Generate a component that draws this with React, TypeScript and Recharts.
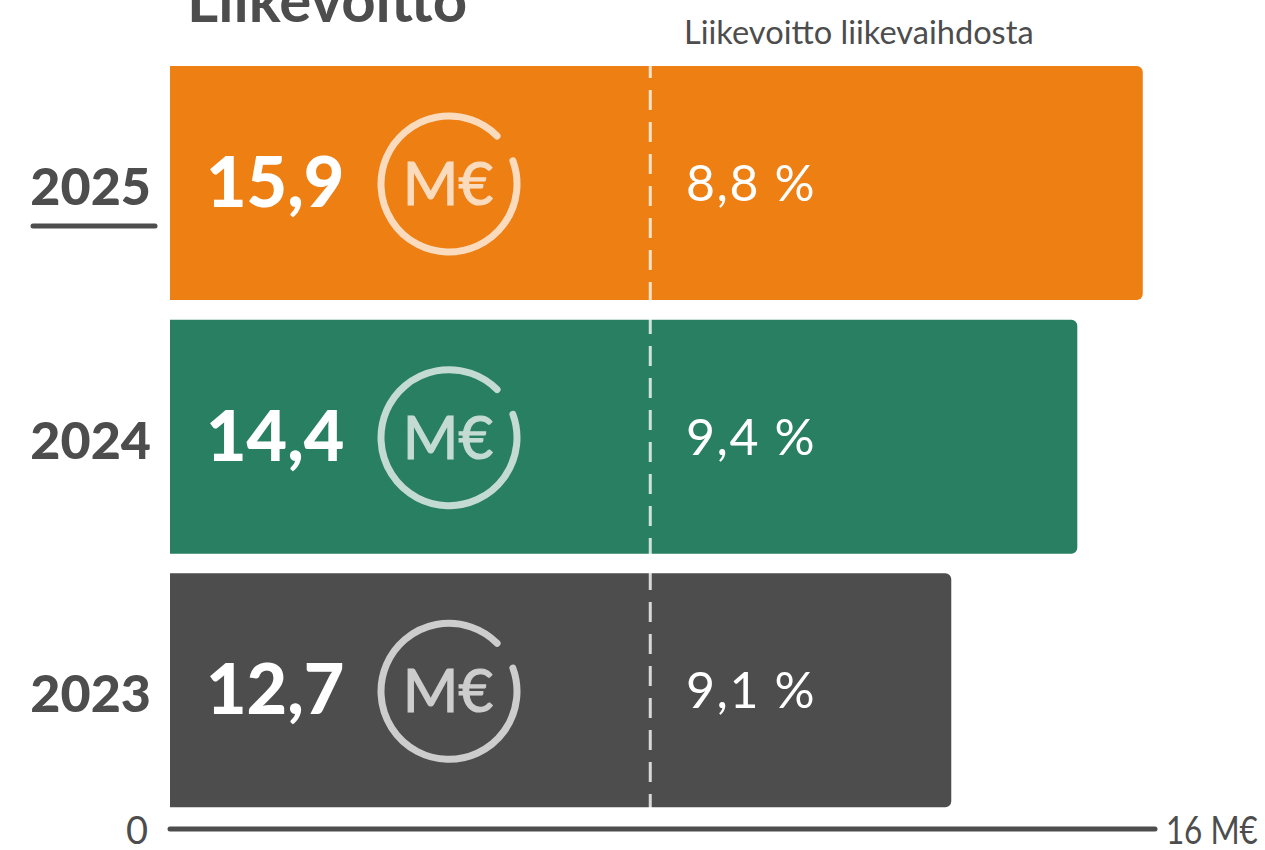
/**
 * Operating profit (Liikevoitto) per year as horizontal bars, with the
 * operating margin printed to the right of the dashed divider.
 */

import { BarChart, Bar, XAxis, YAxis, Cell, LabelList, ReferenceLine } from 'recharts';

const YEARS = ['2025', '2024', '2023'];
// Bar lengths as drawn in the picture. The source graphic does not plot 14,4 and
// 12,7 exactly to scale, so the printed figures are kept separately below.
const BAR_LENGTHS = [15.9, 14.83, 12.77];
const PROFIT_LABELS = ['15,9', '14,4', '12,7'];
const MARGIN_LABELS = ['8,8 %', '9,4 %', '9,1 %'];
const BAR_COLORS = ['#ed7f13', '#287f61', '#4d4d4d'];
const AXIS_TICKS = [0, 16];

const DARK = '#4d4d4d';
const FONT = 'Lato, sans-serif';
const DIVIDER_VALUE = 7.85;
const AXIS_MAX = 16.1;

const chartData = YEARS.map((year, i) => ({
  year,
  length: BAR_LENGTHS[i],
  profit: PROFIT_LABELS[i],
  margin: MARGIN_LABELS[i],
}));

/** Open circle with an M€ inside, gap in the upper right */
function MoneyIcon({ cx, cy }: { cx: number; cy: number }) {
  const r = 68;
  const point = (deg: number) => {
    const a = (deg * Math.PI) / 180;
    return `${cx + r * Math.cos(a)} ${cy - r * Math.sin(a)}`;
  };
  return (
    <g opacity={0.72}>
      <path
        d={`M ${point(45)} A ${r} ${r} 0 1 0 ${point(20)}`}
        fill="none"
        stroke="#fff"
        strokeWidth={7}
        strokeLinecap="round"
      />
      <text
        x={cx - 1}
        y={cy + 21}
        textAnchor="middle"
        fontFamily={FONT}
        fontSize={60}
        fontWeight={400}
        fill="#fff"
        stroke="#fff"
        strokeWidth={1.2}
      >
        M€
      </text>
    </g>
  );
}

function BarContent(props: any) {
  const { x, y, height, index } = props;
  const mid = y + height / 2;
  return (
    <g>
      <text x={x + 36} y={mid + 24} fontFamily={FONT} fontWeight={900} fontSize={70} fill="#fff">
        {PROFIT_LABELS[index]}
      </text>
      <MoneyIcon cx={x + 279} cy={mid + 1} />
      <text
        x={x + 516}
        y={mid + 18}
        fontFamily={FONT}
        fontSize={50}
        letterSpacing={1.6}
        fill="#fff"
      >
        {MARGIN_LABELS[index]}
      </text>
    </g>
  );
}

function YearTick(props: any) {
  const { x, y, payload, index } = props;
  return (
    <g>
      <text
        x={x - 11}
        y={y + 22}
        textAnchor="end"
        fontFamily={FONT}
        fontWeight={900}
        fontSize={52}
        fill={DARK}
      >
        {payload.value}
      </text>
      {index === 0 && (
        <line x1={33} x2={155} y1={226} y2={226} stroke={DARK} strokeWidth={5} strokeLinecap="round" />
      )}
    </g>
  );
}

function ValueTick(props: any) {
  const { x, y, payload } = props;
  const isZero = payload.value === 0;
  return (
    <text
      x={isZero ? x - 22 : x + 17}
      y={y + 7}
      textAnchor={isZero ? 'end' : 'start'}
      textLength={isZero ? undefined : 92}
      lengthAdjust="spacingAndGlyphs"
      fontFamily={FONT}
      fontSize={38}
      fill={DARK}
    >
      {isZero ? '0' : `${payload.value} M€`}
    </text>
  );
}

export default function App() {
  return (
    <div style={{ position: 'absolute', left: 0, top: 0 }}>
      <BarChart
        layout="vertical"
        width={1265}
        height={850}
        data={chartData}
        margin={{ top: 56, right: 110, bottom: 0, left: 0 }}
        barCategoryGap={0}
      >
        <XAxis
          type="number"
          orientation="bottom"
          domain={[0, AXIS_MAX]}
          ticks={AXIS_TICKS}
          height={21}
          tickLine={false}
          tick={<ValueTick />}
          axisLine={{ stroke: DARK, strokeWidth: 5, strokeLinecap: 'round' }}
        />
        <YAxis
          type="category"
          dataKey="year"
          width={170}
          padding={{ top: 0, bottom: 12 }}
          axisLine={false}
          tickLine={false}
          tick={<YearTick />}
        />
        <Bar dataKey="length" barSize={234} radius={[0, 6, 6, 0]} isAnimationActive={false}>
          {YEARS.map((year, i) => (
            <Cell key={year} fill={BAR_COLORS[i]} />
          ))}
          <LabelList dataKey="profit" content={<BarContent />} />
        </Bar>
        <ReferenceLine
          x={DIVIDER_VALUE}
          stroke="#fff"
          strokeOpacity={0.78}
          strokeWidth={3}
          strokeDasharray="20 12"
          strokeDashoffset={17}
        />
        <text x={187} y={22} fontFamily={FONT} fontWeight={700} fontSize={60} fill={DARK}>
          Liikevoitto
        </text>
        <text x={684} y={44} fontFamily={FONT} fontSize={32.6} fill={DARK}>
          Liikevoitto liikevaihdosta
        </text>
      </BarChart>
    </div>
  );
}
